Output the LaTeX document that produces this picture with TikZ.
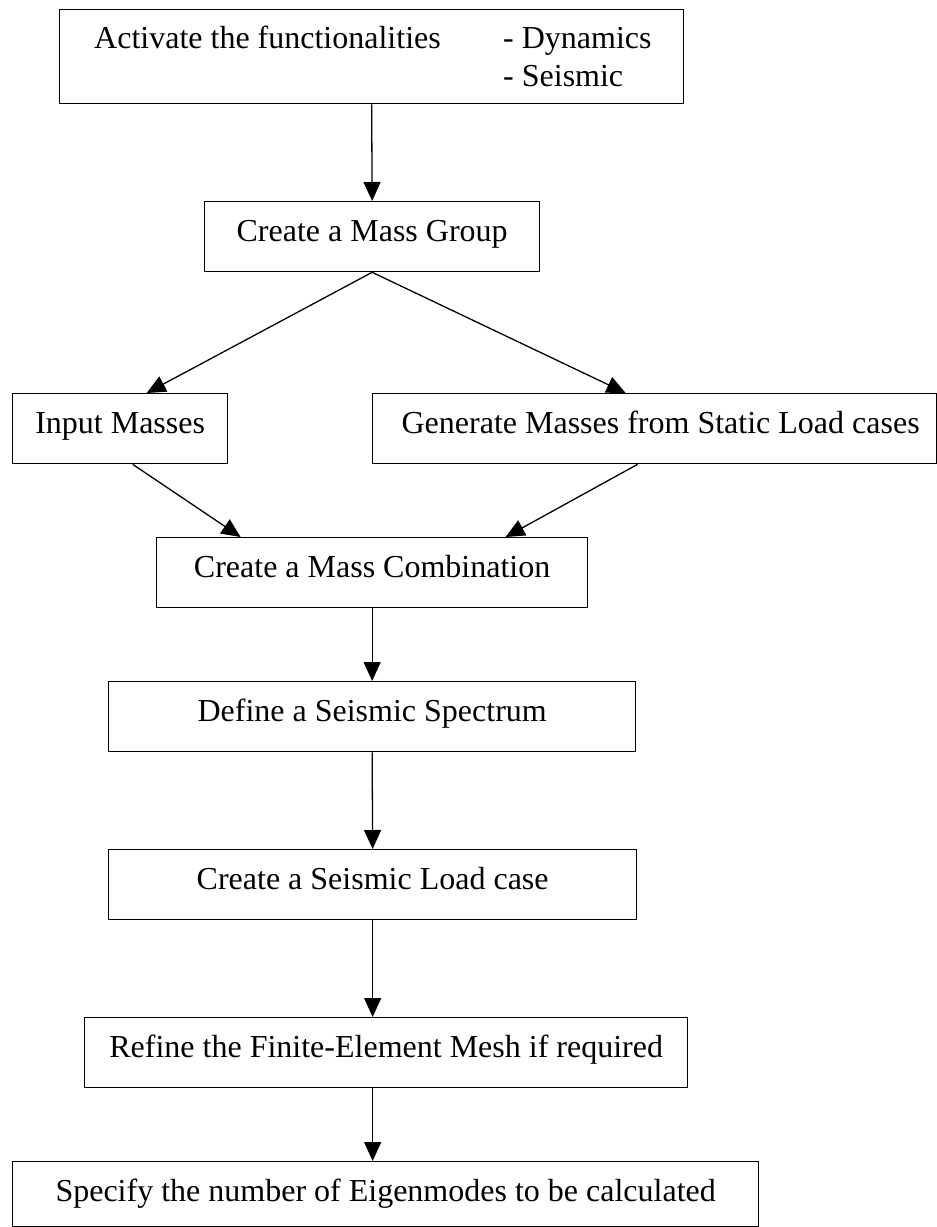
\documentclass[tikz,border=0pt]{standalone}
\usepackage{fontspec}
\setmainfont{Liberation Serif}
\usetikzlibrary{arrows.meta}
\begin{document}
\begin{tikzpicture}[x=1pt,y=-1pt,
  box/.style={draw, line width=1.3pt, inner sep=0pt, text height=40pt, text depth=30pt, anchor=north west, font=\fontsize{32}{38}\selectfont},
  lbl/.style={inner sep=0pt, anchor=base west, font=\fontsize{32}{38}\selectfont},
  arr/.style={line width=1.3pt, -{Triangle[length=19pt,width=17pt]}}]
\useasboundingbox (0,0) rectangle (937,1227);
% top box
\node[draw, line width=1.3pt, inner sep=0pt, minimum width=624pt, minimum height=94pt, anchor=north west] (b1) at (59,9) {};
\node[lbl] (t1a) at (94,48) {Activate the functionalities};
\node[lbl] (t1b) at (503,48) {- Dynamics};
\node[lbl] (t1c) at (503,86) {- Seismic};
% boxes
\node[box, minimum width=335pt] (b2) at (204,201) {Create a Mass Group};
\node[box, minimum width=215pt] (b3) at (12,393) {Input Masses};
\node[box, minimum width=564pt] (b4) at (372,393) {\hspace*{12pt}Generate Masses from Static Load cases};
\node[box, minimum width=431pt] (b5) at (156,537) {Create a Mass Combination};
\node[box, minimum width=527pt] (b6) at (108,681) {Define a Seismic Spectrum};
\node[box, minimum width=528pt] (b7) at (108,849) {Create a Seismic Load case};
\node[box, minimum width=603pt] (b8) at (84,1017) {Refine the Finite-Element Mesh if required};
\node[box, minimum width=746pt, text depth=25pt] (b9) at (12,1161) {Specify the number of Eigenmodes to be calculated};
% connectors
\draw[arr] (b1.south) -- (b2.north);
\draw[arr] (b2.south) -- ([xshift=26.5pt]b3.north);
\draw[arr] (b2.south) -- ([xshift=-29pt]b4.north);
\draw[arr] ([xshift=12.5pt]b3.south) -- ([xshift=-131.5pt]b5.north);
\draw[arr] ([xshift=-17pt]b4.south) -- ([xshift=133.5pt]b5.north);
\draw[arr] (b5.south) -- (b6.north);
\draw[arr] (b6.south) -- (b7.north);
\draw[arr] (b7.south) -- (b7.south |- b8.north);
\draw[arr] (b8.south -| b7.south) -- (b9.north -| b7.south);
\end{tikzpicture}
\end{document}
